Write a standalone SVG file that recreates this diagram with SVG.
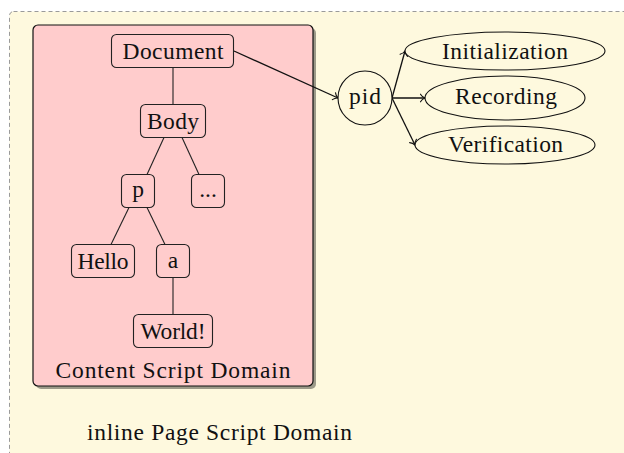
<svg xmlns="http://www.w3.org/2000/svg" width="624" height="453" viewBox="0 0 624 453">
<defs>
<marker id="arr" markerUnits="userSpaceOnUse" markerWidth="12" markerHeight="12" viewBox="-6 -6 12 12" refX="0" refY="0" orient="auto" overflow="visible">
<path d="M-4.5,-3.8 C-3.2,-1.6 -1.2,-0.4 0,0 C-1.2,0.4 -3.2,1.6 -4.5,3.8" fill="none" stroke="#111" stroke-width="1.1" stroke-linecap="round"/>
</marker>
</defs>
<style>
.t{font-family:"Liberation Serif","Times New Roman",serif;font-size:23.5px;fill:#111;text-anchor:middle}
.n{fill:#FFCCCC;stroke:#222;stroke-width:1.1}
.e{fill:#FEF9DE;stroke:#111;stroke-width:1.1}
.c{fill:none;stroke:#222;stroke-width:1.1}
.a{fill:none;stroke:#111;stroke-width:1.3;marker-end:url(#arr)}
</style>
<rect x="0" y="0" width="624" height="453" fill="#ffffff"/>
<g id="page-domain">
<rect x="9.5" y="11.5" width="700" height="500" rx="4" fill="#FEF9DE" stroke="#9a9a9a" stroke-width="1" stroke-dasharray="4 3"/>
<text class="t" x="219.5" y="440" textLength="265" lengthAdjust="spacing">inline Page Script Domain</text>
</g>
<g id="content-domain">
<rect x="36" y="28" width="280" height="361" rx="5" fill="#000" fill-opacity="0.38"/>
<rect x="33" y="25" width="280" height="361" rx="5" fill="#FFCCCC" stroke="#111" stroke-width="1.2"/>
<text class="t" x="173" y="378" textLength="235" lengthAdjust="spacing">Content Script Domain</text>
</g>
<g id="connectors">
<path class="c" d="M173 67.5 V104.5"/>
<path class="c" d="M164 137.5 L147 174.5"/>
<path class="c" d="M182 137.5 L199 174.5"/>
<path class="c" d="M129 207.5 L111 244.5"/>
<path class="c" d="M147 207.5 L165 244.5"/>
<path class="c" d="M173 277.5 V314.5"/>
<path class="a" d="M234 51 L338 98"/>
<path class="a" d="M392 98 L405 51"/>
<path class="a" d="M392 98 L425 98"/>
<path class="a" d="M392 98 L415 145"/>
</g>
<g id="document">
<rect class="n" x="111.5" y="34.5" width="122" height="33" rx="5"/>
<text class="t" x="173" y="58.5" textLength="101" lengthAdjust="spacing">Document</text>
</g>
<g id="body">
<rect class="n" x="140.5" y="104.5" width="65" height="33" rx="5"/>
<text class="t" x="173" y="128.5" textLength="52" lengthAdjust="spacing">Body</text>
</g>
<g id="p">
<rect class="n" x="121.5" y="174.5" width="33" height="33" rx="5"/>
<text class="t" x="138" y="197">p</text>
</g>
<g id="more">
<rect class="n" x="191.5" y="174.5" width="33" height="33" rx="5"/>
<text class="t" x="208" y="197">...</text>
</g>
<g id="hello">
<rect class="n" x="71.5" y="244.5" width="63" height="33" rx="5"/>
<text class="t" x="103" y="269" textLength="51" lengthAdjust="spacing">Hello</text>
</g>
<g id="a">
<rect class="n" x="156.5" y="244.5" width="33" height="33" rx="5"/>
<text class="t" x="173" y="268">a</text>
</g>
<g id="world">
<rect class="n" x="133.5" y="314.5" width="79" height="33" rx="5"/>
<text class="t" x="173" y="339" textLength="65" lengthAdjust="spacing">World!</text>
</g>
<g id="pid">
<circle class="e" cx="365" cy="98" r="27"/>
<text class="t" x="365" y="104" textLength="32" lengthAdjust="spacing">pid</text>
</g>
<g id="initialization">
<ellipse class="e" cx="505" cy="51" rx="100" ry="19"/>
<text class="t" x="505" y="58.5" textLength="126" lengthAdjust="spacing">Initialization</text>
</g>
<g id="recording">
<ellipse class="e" cx="505" cy="98" rx="80" ry="22"/>
<text class="t" x="506" y="104" textLength="102" lengthAdjust="spacing">Recording</text>
</g>
<g id="verification">
<ellipse class="e" cx="505" cy="145" rx="90" ry="19"/>
<text class="t" x="505.5" y="151.5" textLength="115" lengthAdjust="spacing">Verification</text>
</g>
</svg>
